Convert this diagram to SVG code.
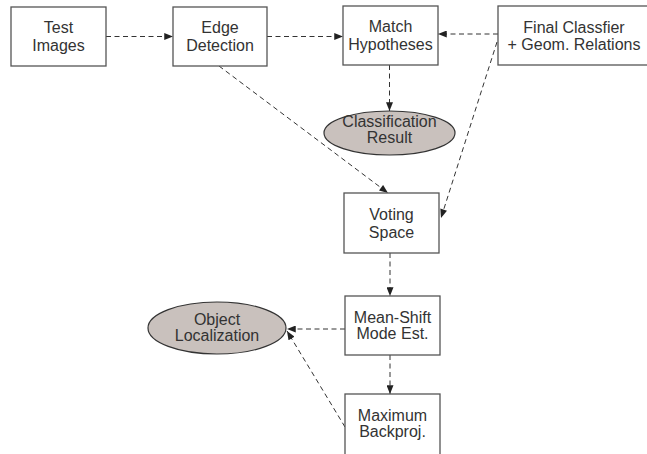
<svg xmlns="http://www.w3.org/2000/svg" width="647" height="454" viewBox="0 0 647 454">
  <defs>
    <marker id="arr" viewBox="0 0 10 8" refX="10" refY="4" markerWidth="10" markerHeight="7" markerUnits="userSpaceOnUse" orient="auto">
      <path d="M0,0 L10,4 L0,8 z" fill="#222"/>
    </marker>
    <style>
      .box { fill: #fff; stroke: #555; stroke-width: 1.3; }
      .ell { fill: #c9c1bd; stroke: #333; stroke-width: 1.2; }
      .lbl { font-family: "Liberation Sans", Arial, sans-serif; font-size: 16px; fill: #333; text-anchor: middle; }
      .edge { fill: none; stroke: #333; stroke-width: 1; stroke-dasharray: 5 3.5; marker-end: url(#arr); }
    </style>
  </defs>
  <rect width="647" height="454" fill="#fff"/>

  <g id="connectors">
    <line class="edge" x1="106" y1="36.5" x2="173" y2="36.5"/>
    <line class="edge" x1="267" y1="36.5" x2="343" y2="36.5"/>
    <line class="edge" x1="498" y1="34" x2="438" y2="34"/>
    <line class="edge" x1="389.5" y1="65" x2="389.5" y2="111"/>
    <line class="edge" x1="219" y1="66" x2="388" y2="193"/>
    <line class="edge" x1="497" y1="42" x2="441" y2="218"/>
    <line class="edge" x1="390" y1="253" x2="390" y2="296"/>
    <line class="edge" x1="345" y1="329" x2="287" y2="329"/>
    <line class="edge" x1="390" y1="355" x2="390" y2="394"/>
    <line class="edge" x1="345" y1="427" x2="287" y2="331"/>
  </g>

  <g id="test-images">
    <rect class="box" x="11" y="7" width="95" height="59"/>
    <text class="lbl" x="58.5" y="33">Test</text>
    <text class="lbl" x="58.5" y="51">Images</text>
  </g>
  <g id="edge-detection">
    <rect class="box" x="173" y="7" width="94" height="59"/>
    <text class="lbl" x="220" y="33">Edge</text>
    <text class="lbl" x="220" y="51">Detection</text>
  </g>
  <g id="match-hypotheses">
    <rect class="box" x="343" y="6" width="95" height="59"/>
    <text class="lbl" x="390.5" y="32">Match</text>
    <text class="lbl" x="390.5" y="49.5">Hypotheses</text>
  </g>
  <g id="final-classifier">
    <rect class="box" x="498" y="6" width="160" height="59"/>
    <text class="lbl" x="574" y="33">Final Classfier</text>
    <text class="lbl" x="574" y="50">+ Geom. Relations</text>
  </g>
  <g id="classification-result">
    <ellipse class="ell" cx="389.5" cy="133" rx="65.5" ry="22"/>
    <text class="lbl" x="389.5" y="127">Classification</text>
    <text class="lbl" x="389.5" y="143">Result</text>
  </g>
  <g id="voting-space">
    <rect class="box" x="344" y="193" width="95" height="60"/>
    <text class="lbl" x="391.5" y="220">Voting</text>
    <text class="lbl" x="391.5" y="237.5">Space</text>
  </g>
  <g id="mean-shift">
    <rect class="box" x="345" y="296" width="95" height="59"/>
    <text class="lbl" x="392.5" y="322.5">Mean-Shift</text>
    <text class="lbl" x="392.5" y="339">Mode Est.</text>
  </g>
  <g id="object-localization">
    <ellipse class="ell" cx="217" cy="328" rx="69" ry="26"/>
    <text class="lbl" x="217" y="325">Object</text>
    <text class="lbl" x="217" y="341">Localization</text>
  </g>
  <g id="maximum-backproj">
    <rect class="box" x="345" y="394" width="95" height="70"/>
    <text class="lbl" x="392.5" y="420.5">Maximum</text>
    <text class="lbl" x="392.5" y="437">Backproj.</text>
  </g>
</svg>
